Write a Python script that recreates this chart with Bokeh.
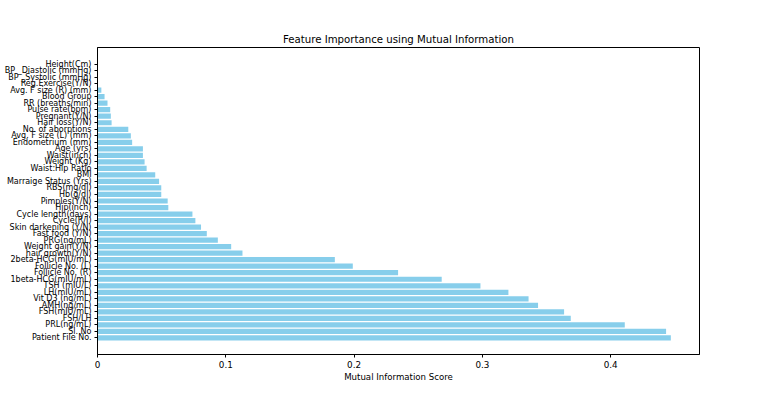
from bokeh.plotting import figure
from bokeh.models import ColumnDataSource, FactorRange, Range1d, FixedTicker
from bokeh.embed import file_html
from bokeh.resources import INLINE

# features, from bottom (highest score) to top (lowest score)
features = [
    "Patient File No.", "Sl. No", "PRL(ng/mL)", "FSH/LH", "FSH(mIU/mL)",
    "AMH(ng/mL)", "Vit D3 (ng/mL)", "LH(mIU/mL)", "TSH (mIU/L)",
    "1beta-HCG(mIU/mL)", "Follicle No. (R)", "Follicle No. (L)",
    "2beta-HCG(mIU/mL)", "hair growth(Y/N)", "Weight gain(Y/N)", "PRG(ng/mL)",
    "Fast food (Y/N)", "Skin darkening (Y/N)", "Cycle(R/I)", "Cycle length(days)",
    "Hip(inch)", "Pimples(Y/N)", "Hb(g/dl)", "RBS(mg/dl)", "Marraige Status (Yrs)",
    "BMI", "Waist:Hip Ratio", "Weight (Kg)", "Waist(inch)", "Age (yrs)",
    "Endometrium (mm)", "Avg. F size (L) (mm)", "No. of aborptions",
    "Hair loss(Y/N)", "Pregnant(Y/N)", "Pulse rate(bpm)", "RR (breaths/min)",
    "Blood Group", "Avg. F size (R) (mm)", "Reg.Exercise(Y/N)",
    "BP _Systolic (mmHg)", "BP _Diastolic (mmHg)", "Height(Cm)",
]
scores = [
    0.4469, 0.4432, 0.4110, 0.3689, 0.3637,
    0.3434, 0.3360, 0.3203, 0.2985,
    0.2683, 0.2343, 0.1990,
    0.1850, 0.1130, 0.1042, 0.0938,
    0.0852, 0.0807, 0.0763, 0.0740,
    0.0552, 0.0547, 0.0497, 0.0497, 0.0480,
    0.0450, 0.0383, 0.0367, 0.0354, 0.0354,
    0.0270, 0.0260, 0.0240,
    0.0110, 0.0104, 0.0099, 0.0078,
    0.0055, 0.0030, 0.0,
    0.0, 0.0, 0.0,
]
x_ticks = [0.0, 0.1, 0.2, 0.3, 0.4]

src = ColumnDataSource(dict(feature=features, score=scores))

y_range = FactorRange(factors=features, range_padding=2.04, range_padding_units="absolute")
x_range = Range1d(0, max(scores) * 1.05)

p = figure(
    width=777, height=398, y_range=y_range, x_range=x_range,
    output_backend="svg", toolbar_location=None,
    title="Feature Importance using Mutual Information",
    min_border_left=97, min_border_right=78, min_border_top=47, min_border_bottom=44,
)

p.hbar(y="feature", right="score", left=0, height=0.8, source=src,
       fill_color="#87CEEB", line_color=None)

# styling
p.title.align = "center"
p.title.text_font = "DejaVu Sans"
p.title.text_font_style = "normal"
p.title.text_font_size = "10.2px"
p.title.text_color = "#000000"
p.title.standoff = 6

p.outline_line_color = "#000000"
p.outline_line_width = 1
p.outline_line_alpha = 1
p.xgrid.visible = False
p.ygrid.visible = False
p.background_fill_color = "white"

p.xaxis.ticker = FixedTicker(ticks=x_ticks)
p.xaxis.axis_label = "Mutual Information Score"
p.xaxis.axis_label_text_font = "DejaVu Sans"
p.xaxis.axis_label_text_font_style = "normal"
p.xaxis.axis_label_text_font_size = "8.6px"
p.xaxis.axis_label_text_color = "#000000"
p.xaxis.axis_label_standoff = 1
p.xaxis.major_label_text_font = "DejaVu Sans"
p.xaxis.major_label_text_font_size = "8.8px"
p.xaxis.major_label_text_color = "#000000"
p.xaxis.major_label_standoff = 3
p.xaxis.major_tick_out = 3
p.xaxis.major_tick_in = 0
p.xaxis.minor_tick_line_color = None
p.xaxis.axis_line_color = "#000000"
p.xaxis.major_tick_line_color = "#000000"

p.yaxis.major_label_text_font = "DejaVu Sans"
p.yaxis.major_label_text_font_size = "8px"
p.yaxis.major_label_text_color = "#000000"
p.yaxis.major_label_standoff = 3
p.yaxis.major_tick_out = 3
p.yaxis.major_tick_in = 0
p.yaxis.minor_tick_line_color = None
p.yaxis.axis_line_color = "#000000"
p.yaxis.major_tick_line_color = "#000000"

open("out.html", "w").write(file_html(p, INLINE))
